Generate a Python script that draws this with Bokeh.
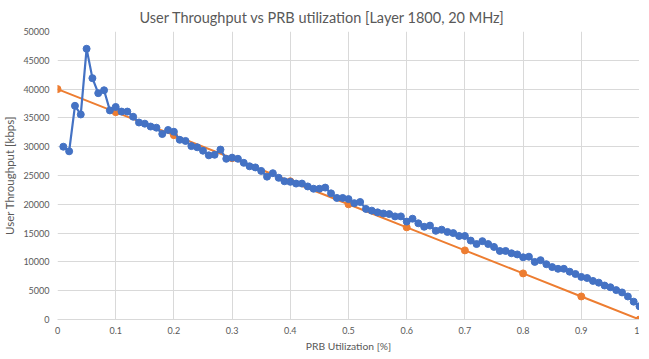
from bokeh.plotting import figure
from bokeh.embed import file_html
from bokeh.resources import INLINE
from bokeh.models import FixedTicker, BasicTickFormatter, Range1d

# ---- data ----
prb_util = [round(i / 100, 2) for i in range(1, 101)]
throughput = [
    30000, 29200, 37100, 35600, 47000, 41900, 39300, 39800, 36300, 36900,
    36100, 36100, 35200, 34200, 34000, 33500, 33300, 32200, 32900, 32600,
    31200, 31000, 30100, 29900, 29300, 28500, 28600, 29500, 27900, 28100,
    27900, 27200, 26600, 26400, 25800, 24800, 25400, 24600, 24000, 23900,
    23600, 23600, 23100, 22700, 22700, 22900, 21900, 21100, 21100, 20900,
    20200, 20400, 19200, 18900, 18600, 18400, 18300, 17900, 17900, 17000,
    17500, 16700, 16100, 16300, 15400, 15600, 15200, 15000, 14500, 14500,
    13700, 13100, 13600, 13100, 12600, 11900, 11900, 11500, 11300, 10800,
    10900, 10000, 10300, 9600, 9100, 8800, 8800, 8300, 7900, 7400,
    7200, 6700, 6400, 5900, 5600, 5100, 4700, 4000, 3100, 2300,
]
ref_util = [0, 0.1, 0.2, 0.3, 0.4, 0.5, 0.6, 0.7, 0.8, 0.9, 1]
ref_throughput = [40000, 36000, 32000, 28000, 24000, 20000, 16000, 12000, 8000, 4000, 0]
x_ticks = [0, 0.1, 0.2, 0.3, 0.4, 0.5, 0.6, 0.7, 0.8, 0.9, 1]
x_tick_labels = ["0", "0.1", "0.2", "0.3", "0.4", "0.5", "0.6", "0.7", "0.8", "0.9", "1"]
y_ticks = [0, 5000, 10000, 15000, 20000, 25000, 30000, 35000, 40000, 45000, 50000]

FONT = "Lato"
TXT = "#595959"
BLUE = "#4472C4"
ORANGE = "#ED7D31"

p = figure(frame_width=582, frame_height=288, output_backend="svg", toolbar_location=None,
           title="User Throughput vs PRB utilization [Layer 1800, 20 MHz]",
           x_range=Range1d(0, 1), y_range=Range1d(0, 50000),
           min_border_left=0, min_border_right=0, min_border_top=0, min_border_bottom=0)

p.title.align = "left"
p.title.text_font = FONT
p.title.text_font_size = "14.5px"
p.title.text_font_style = "normal"
p.title.text_color = TXT
p.title.standoff = 12
p.title.offset = 82

p.outline_line_color = None
p.background_fill_color = "white"
p.border_fill_color = "white"

p.line(ref_util, ref_throughput, line_color=ORANGE, line_width=2)
p.scatter(ref_util, ref_throughput, size=7, fill_color=ORANGE, line_color=ORANGE)
p.line(prb_util, throughput, line_color=BLUE, line_width=2.2)
p.scatter(prb_util, throughput, size=7, fill_color=BLUE, line_color=BLUE)

p.xaxis.ticker = FixedTicker(ticks=x_ticks)
p.xaxis.major_label_overrides = dict(zip(x_ticks, x_tick_labels))
p.yaxis.ticker = FixedTicker(ticks=y_ticks)
p.yaxis.formatter = BasicTickFormatter(use_scientific=False)

p.xaxis.axis_label = "PRB Utilization [%]"
p.yaxis.axis_label = "User Throughput [kbps]"

for ax in (p.xaxis, p.yaxis):
    ax.major_tick_line_color = None
    ax.minor_tick_line_color = None
    ax.major_tick_out = 0
    ax.minor_tick_out = 0
    ax.major_label_text_font = FONT
    ax.major_label_text_font_size = "9px"
    ax.major_label_text_color = TXT
    ax.axis_label_text_font = FONT
    ax.axis_label_text_font_style = "normal"
    ax.axis_label_text_color = TXT

p.xaxis.axis_label_text_font_size = "10.3px"
p.yaxis.axis_label_text_font_size = "11.5px"

p.xaxis.major_label_standoff = 7
p.xaxis.axis_label_standoff = 3
p.yaxis.major_label_standoff = 8
p.yaxis.axis_label_standoff = 4

p.xaxis.axis_line_color = "#D9D9D9"
p.yaxis.axis_line_color = None

p.xgrid.grid_line_color = "#D9D9D9"
p.ygrid.grid_line_color = "#D9D9D9"

open("out.html", "w").write(file_html(p, INLINE))
